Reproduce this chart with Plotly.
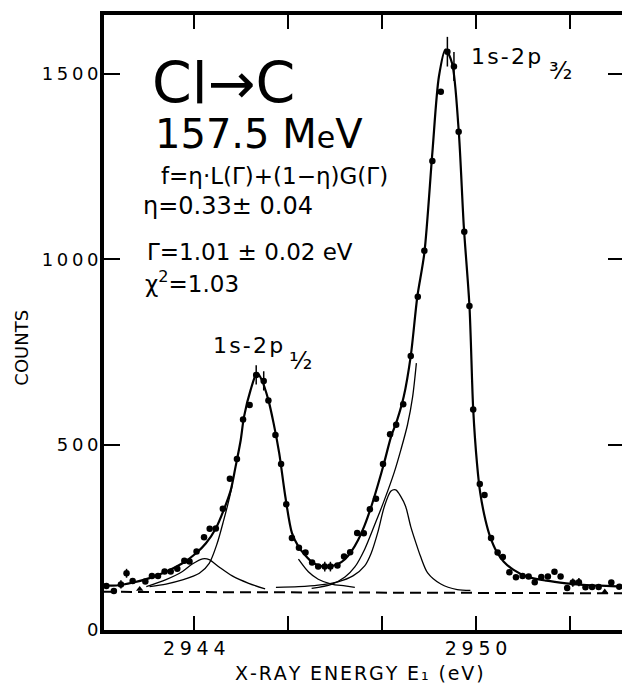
import plotly.graph_objects as go

# ---------------- data ----------------
energy = [2942.13, 2942.29, 2942.44, 2942.56, 2942.69, 2942.84, 2942.96, 2943.10, 2943.23, 2943.37,
          2943.50, 2943.64, 2943.79, 2943.90, 2944.05, 2944.21, 2944.33, 2944.46, 2944.61, 2944.76,
          2944.91, 2945.04, 2945.18, 2945.32, 2945.48, 2945.58, 2945.73, 2945.85, 2945.96, 2946.08,
          2946.23, 2946.37, 2946.51, 2946.64, 2946.78, 2946.90, 2947.05, 2947.19, 2947.32, 2947.47,
          2947.61, 2947.74, 2947.87, 2948.02, 2948.17, 2948.30, 2948.45, 2948.61, 2948.76, 2948.90,
          2949.07, 2949.25, 2949.39, 2949.53, 2949.63, 2949.75, 2949.86, 2949.94, 2950.08, 2950.18,
          2950.32, 2950.46, 2950.57, 2950.71, 2950.85, 2950.99, 2951.12, 2951.25, 2951.39, 2951.53,
          2951.67, 2951.80, 2951.94, 2952.06, 2952.19, 2952.33, 2952.47, 2952.61, 2952.74, 2952.88,
          2953.05]
counts = [119, 105, 123, 153, 132, 110, 131, 146, 146, 158,
          158, 165, 187, 185, 212, 250, 273, 274, 327, 408,
          461, 568, 607, 688, 672, 619, 526, 448, 339, 248,
          222, 209, 182, 171, 171, 171, 174, 198, 210, 262,
          261, 326, 354, 448, 528, 554, 609, 739, 899, 1023,
          1265, 1452, 1560, 1520, 1344, 1074, 874, 595, 394, 364,
          248, 209, 197, 156, 142, 146, 144, 129, 143, 144,
          157, 144, 113, 128, 129, 115, 116, 116, 103, 128,
          117]
count_errors = [0, 0, 11, 12, 0, 0, 0, 0, 0, 0,
                0, 0, 0, 0, 0, 0, 0, 0, 0, 0,
                0, 0, 0, 26, 26, 0, 0, 0, 0, 0,
                0, 0, 0, 0, 13, 13, 0, 0, 0, 0,
                0, 0, 0, 0, 0, 0, 0, 0, 0, 0,
                0, 0, 40, 39, 0, 0, 0, 0, 0, 0,
                0, 0, 0, 0, 0, 0, 0, 0, 0, 0,
                0, 0, 0, 11, 11, 0, 0, 0, 0, 0,
                0]
triangle_points = [5, 78]

fit_energy = [2942.08, 2942.35, 2942.70, 2943.05, 2943.40, 2943.75, 2944.04, 2944.25, 2944.46, 2944.63,
              2944.78, 2944.88, 2944.99, 2945.06, 2945.20, 2945.34, 2945.44, 2945.58, 2945.69, 2945.81,
              2945.94, 2946.08, 2946.22, 2946.36, 2946.50, 2946.68, 2946.85, 2947.06, 2947.21, 2947.34,
              2947.49, 2947.63, 2947.77, 2947.91, 2948.05, 2948.19, 2948.32, 2948.46, 2948.61, 2948.75,
              2948.90, 2949.07, 2949.21, 2949.35, 2949.49, 2949.63, 2949.74, 2949.86, 2949.94, 2950.02,
              2950.09, 2950.20, 2950.30, 2950.44, 2950.59, 2950.80, 2951.08, 2951.50, 2951.92, 2952.35,
              2952.77, 2953.15]
fit_counts = [120, 120, 128, 140, 157, 180, 207, 234, 274, 324,
              378, 440, 512, 575, 647, 694, 674, 620, 558, 477,
              360, 262, 225, 202, 184, 173, 171, 178, 191, 211,
              243, 283, 333, 391, 454, 521, 566, 629, 739, 899,
              1017, 1287, 1493, 1566, 1529, 1349, 1088, 874, 595, 450,
              369, 297, 252, 211, 184, 162, 144, 133, 126, 121,
              119, 117]

satA_energy = [2942.98, 2943.40, 2943.75, 2943.96, 2944.18, 2944.32, 2944.53, 2944.81, 2945.16, 2945.51]
satA_counts = [117, 136, 158, 178, 192, 190, 170, 146, 126, 111]

p12_left_energy = [2943.05, 2943.40, 2943.75, 2944.11, 2944.32, 2944.49, 2944.63, 2944.74, 2944.81]
p12_left_counts = [117, 124, 135, 153, 180, 234, 297, 351, 391]

p12_right_energy = [2946.22, 2946.43, 2946.64, 2946.92, 2947.21, 2947.42]
p12_right_counts = [191, 157, 137, 124, 119, 115]

p32_left_energy = [2946.50, 2946.92, 2947.21, 2947.42, 2947.63, 2947.84, 2948.05, 2948.26, 2948.40,
                   2948.54, 2948.65, 2948.73]
p32_left_counts = [112, 123, 143, 170, 218, 283, 351, 426, 486, 553, 629, 720]

satB_energy = [2945.74, 2946.22, 2946.64, 2947.06, 2947.38, 2947.63, 2947.77, 2947.91, 2948.05, 2948.19,
               2948.29, 2948.40, 2948.50, 2948.61, 2948.72, 2948.82, 2948.97, 2949.25, 2949.60, 2949.88]
satB_counts = [115, 117, 121, 130, 146, 173, 208, 264, 334, 375,
               378, 360, 334, 279, 235, 198, 154, 124, 109, 107]

baseline_energy = [2942.08, 2953.15]
baseline_counts = [103, 99]

x_tick_values = [2944, 2950]
x_tick_labels = ["2\u20059\u20054\u20054", "2\u20059\u20055\u20050"]
x_minor_tick_values = [2946, 2948, 2952]
y_tick_values = [0, 500, 1000, 1500]
y_tick_labels = ["0", "5\u20090\u20090", "1\u20090\u20090\u20090", "1\u20095\u20090\u20090"]

# ---------------- figure ----------------
# the page body adds an 8 px offset, so the figure is 8 px smaller on each axis
OFF = 8
FONT = "DejaVu Sans"
fig = go.Figure()

thin = dict(color="black", width=1.3, shape="spline", smoothing=0.8)
for ex, cy in [(satA_energy, satA_counts), (p12_left_energy, p12_left_counts),
               (p12_right_energy, p12_right_counts), (p32_left_energy, p32_left_counts),
               (satB_energy, satB_counts)]:
    fig.add_trace(go.Scatter(x=ex, y=cy, mode="lines", line=thin, hoverinfo="skip"))

fig.add_trace(go.Scatter(x=baseline_energy, y=baseline_counts, mode="lines",
                         line=dict(color="black", width=2, dash="11px,6px")))

fig.add_trace(go.Scatter(x=fit_energy, y=fit_counts, mode="lines",
                         line=dict(color="black", width=2.2, shape="spline", smoothing=0.8)))

symbols = ["triangle-up" if i in triangle_points else "circle" for i in range(len(energy))]
fig.add_trace(go.Scatter(x=energy, y=counts, mode="markers",
                         marker=dict(color="black", size=6.5, symbol=symbols, line=dict(width=0)),
                         error_y=dict(type="data", array=count_errors, visible=True,
                                      color="black", thickness=1.5, width=0)))

axis_common = dict(showgrid=False, zeroline=False, showline=True, linecolor="black",
                   linewidth=4, mirror="ticks", ticks="inside", tickcolor="black")

fig.update_xaxes(range=[2942.08, 2953.15], tickvals=x_tick_values, ticktext=x_tick_labels,
                 ticklen=14, tickwidth=2, ticklabelstandoff=-2,
                 tickfont=dict(family=FONT, size=19, color="black"),
                 minor=dict(tickvals=x_minor_tick_values, ticks="inside", ticklen=14,
                            tickwidth=2, tickcolor="black"),
                 **axis_common)
fig.update_yaxes(range=[0, 1659], tickvals=y_tick_values, ticktext=y_tick_labels,
                 ticklen=16, tickwidth=2, ticklabelstandoff=-2,
                 tickfont=dict(family=FONT, size=18, color="black"),
                 **axis_common)

L, R, T, B = 104, 628, 15, 630


def ann(text, px, py, size, xanchor="left", angle=0):
    fig.add_annotation(text=text, x=(px - L) / (R - L), y=(B - py) / (B - T),
                       xref="paper", yref="paper", xanchor=xanchor, yanchor="middle",
                       showarrow=False, textangle=angle,
                       font=dict(family=FONT, size=size, color="black"))


HS = "\u200a"  # hair space, to widen the lettering like the original
x_title = HS.join("X-RAY ENERGY E\u2081 (eV)")
peak_label = HS.join("1s-2p")

ann("Cl\u2192C", 150, 83, 57)
ann("157.5 M<span style='font-size:30px'>e</span>V", 153, 134, 40)
ann("f=\u03b7\u00b7L(\u0393)+(1\u2212\u03b7)G(\u0393)", 159, 176, 23)
ann("\u03b7=0.33\u00b1 0.04", 141, 206, 24)
ann("\u0393=1.01 \u00b1 0.02 eV", 145, 252, 23)
ann("\u03c7<sup>2</sup>=1.03", 143, 282, 23)
ann(peak_label, 212, 345, 22)
ann("\u00b9\u2044\u2082", 288, 361, 24)
ann(peak_label, 472, 57, 22)
ann("\u00b3\u2044\u2082", 550, 71, 24)
ann("COUNTS", 20, 348, 18, xanchor="center", angle=-90)
ann(x_title, 361, 673, 19, xanchor="center")

fig.update_layout(width=630 - OFF, height=686 - OFF,
                  margin=dict(l=L - OFF, r=630 - OFF - (R - OFF), t=T - OFF, b=686 - OFF - (B - OFF)),
                  paper_bgcolor="white", plot_bgcolor="white", showlegend=False)

fig.write_html("out.html")
